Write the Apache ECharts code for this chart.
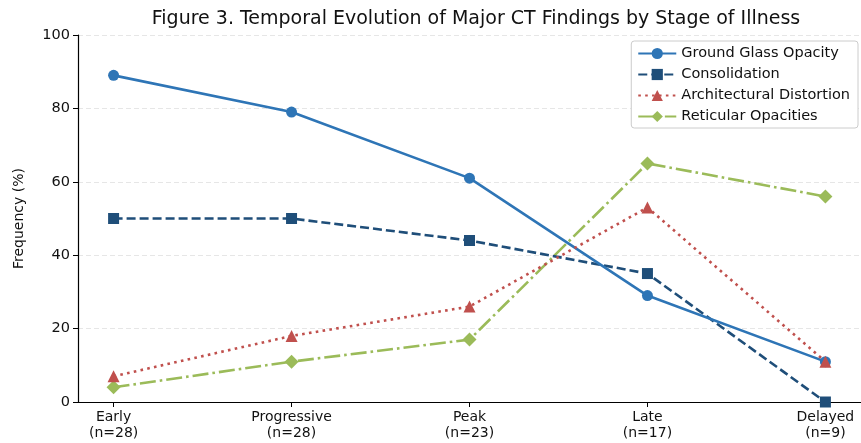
<!DOCTYPE html>
<html><head><meta charset="utf-8">
<script src="https://cdn.jsdelivr.net/npm/echarts@6/dist/echarts.min.js"></script>
<style>html,body{margin:0;padding:0;background:#fff}#c{width:861px;height:443px}</style>
</head><body><div id="c"></div>
<script>
const categories = ['Early\n(n=28)', 'Progressive\n(n=28)', 'Peak\n(n=23)', 'Late\n(n=17)', 'Delayed\n(n=9)'];
const ggo = [89, 79, 61, 29, 11];
const consolidation = [50, 50, 44, 35, 0];
const archDistortion = [7, 18, 26, 53, 11];
const reticular = [4, 11, 17, 65, 56];
const yTicks = [0, 20, 40, 60, 80, 100];

const F = 'DejaVu Sans';
const idx = categories.map((_, i) => i);
function pts(arr) { return arr.map((v, i) => [i, v]); }

const chart = echarts.init(document.getElementById('c'), null, {renderer: 'canvas'});
chart.setOption({
  animation: false,
  backgroundColor: '#fff',
  textStyle: {fontFamily: F},
  title: {
    text: 'Figure 3. Temporal Evolution of Major CT Findings by Stage of Illness',
    left: 471, top: 5, textAlign: 'center',
    textStyle: {fontFamily: F, fontSize: 19, fontWeight: 'normal', color: '#111'}
  },
  legend: {
    right: 3, top: 41, orient: 'vertical',
    backgroundColor: '#fff', borderColor: '#cccccc', borderWidth: 1, borderRadius: 3,
    padding: [5, 8, 4, 6], itemGap: 6, itemWidth: 38, itemHeight: 14,
    textStyle: {fontFamily: F, fontSize: 14.5, color: '#111'},
    data: ['Ground Glass Opacity', 'Consolidation', 'Architectural Distortion', 'Reticular Opacities']
  },
  grid: {left: 78, right: -3, top: 35, bottom: 41, containLabel: false},
  xAxis: {
    type: 'value', min: -0.2, max: 4.2,
    splitLine: {show: false},
    axisLine: {show: true, onZero: false, lineStyle: {color: '#000', width: 1.2}},
    axisTick: {show: true, customValues: idx, length: 5, lineStyle: {color: '#000'}},
    axisLabel: {show: true, customValues: idx, formatter: v => categories[Math.round(v)],
      fontFamily: F, fontSize: 14, color: '#111', lineHeight: 16, margin: 7}
  },
  yAxis: {
    type: 'value', min: 0, max: 100, interval: 20,
    name: 'Frequency (%)', nameLocation: 'middle', nameGap: 52,
    nameTextStyle: {fontFamily: F, fontSize: 14, color: '#111'},
    axisLine: {show: true, onZero: false, lineStyle: {color: '#000', width: 1.2}},
    axisTick: {show: true, length: 5, lineStyle: {color: '#000'}},
    axisLabel: {fontFamily: F, fontSize: 14.5, color: '#111', margin: 8},
    splitLine: {show: true, lineStyle: {color: '#e6e6e6', type: [5, 3], width: 1}}
  },
  series: [
    {name: 'Ground Glass Opacity', type: 'line', data: pts(ggo), z: 4,
      symbol: 'circle', symbolSize: 11, itemStyle: {color: '#2e75b6'},
      lineStyle: {color: '#2e75b6', width: 2.6, type: 'solid'}},
    {name: 'Consolidation', type: 'line', data: pts(consolidation), z: 3,
      symbol: 'rect', symbolSize: 11, itemStyle: {color: '#1f4e79'},
      lineStyle: {color: '#1f4e79', width: 2.6, type: [9, 4]}},
    {name: 'Architectural Distortion', type: 'line', data: pts(archDistortion), z: 5,
      symbol: 'triangle', symbolSize: 12, itemStyle: {color: '#c0504d'},
      lineStyle: {color: '#c0504d', width: 2.6, type: [2.6, 4.3]}},
    {name: 'Reticular Opacities', type: 'line', data: pts(reticular), z: 2,
      symbol: 'diamond', symbolSize: 14, itemStyle: {color: '#9bbb59'},
      lineStyle: {color: '#9bbb59', width: 2.6, type: [16, 4, 2.6, 4]}}
  ]
});
</script></body></html>
